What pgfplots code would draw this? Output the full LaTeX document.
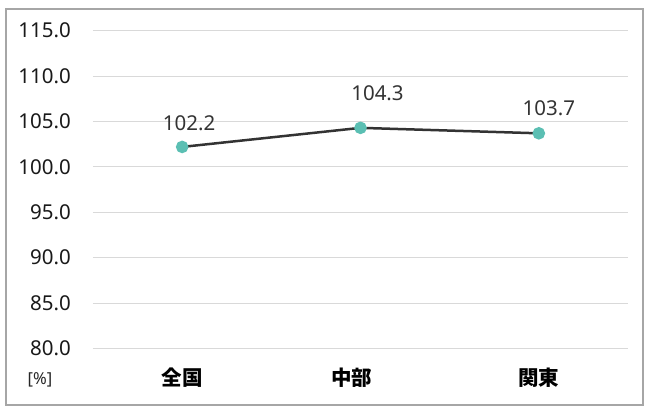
\documentclass[border=0pt]{standalone}
\usepackage{fontspec}
\setmainfont{Noto Sans}
\newfontfamily\cjk{Noto Sans CJK JP}
\usepackage{pgfplots}
\usepackage{pgfplotstable}
\pgfplotsset{compat=1.18}

\definecolor{gridgray}{HTML}{D9D9D9}
\definecolor{framegray}{HTML}{A6A6A6}
\definecolor{teal}{HTML}{5BBFB3}
\definecolor{linegray}{HTML}{333333}
\definecolor{labelgray}{HTML}{333333}

% x = category index, dx/dy = label offset from the point (bp)
\pgfplotstableread{
x   y      dx  dy
0   102.2  7   24
1   104.3  17  35
2   103.7  10  25
}\ratio

\begin{document}
\begin{tikzpicture}
    \path[use as bounding box] (0,0) rectangle (650bp,410bp);
    \draw[framegray, line width=1.5bp] (6bp,5bp) rectangle (643bp,401bp);

    \begin{axis}[
            at={(93bp,61.5bp)}, anchor=south west,
            scale only axis,
            width=535bp, height=317.8bp,
            xmin=-0.5, xmax=2.5,
            ymin=80, ymax=115,
            ytick={80,85,...,115},
            xtick={0,1,2},
            xticklabels={全国, {\kern-18bp 中部}, 関東},
            axis line style={draw=none},
            major tick length=0pt,
            ymajorgrids,
            grid style={gridgray, line width=1bp},
            clip=false,
            /pgf/number format/assume math mode=true,
            yticklabel={\pgfmathprintnumber[fixed, fixed zerofill, precision=1]{\tick}},
            yticklabel style={anchor=east, inner sep=0pt, xshift=-22bp,
                font=\fontsize{20.5bp}{24bp}\selectfont, text=black!90},
            xticklabel style={anchor=center, inner sep=0pt, yshift=-29.5bp,
                font=\cjk\bfseries\fontsize{20.5bp}{24bp}\selectfont, text=black},
            visualization depends on={\thisrow{dx} \as \dx},
            visualization depends on={\thisrow{dy} \as \dy},
            nodes near coords,
            nodes near coords style={anchor=center, yshift=\dy bp, xshift=\dx bp,
                font=\fontsize{20.5bp}{24bp}\selectfont, text=labelgray,
                /pgf/number format/fixed, /pgf/number format/fixed zerofill,
                /pgf/number format/precision=1},
        ]
        \addplot[linegray, line width=2.5bp, mark=*,
            mark options={teal, draw=teal, fill=teal}, mark size=5bp]
            table[x=x, y=y] {\ratio};
    \end{axis}

    \node[font=\fontsize{16.5bp}{20bp}\selectfont, text=black!85] at (40bp,30bp) {[\%]};
\end{tikzpicture}
\end{document}
